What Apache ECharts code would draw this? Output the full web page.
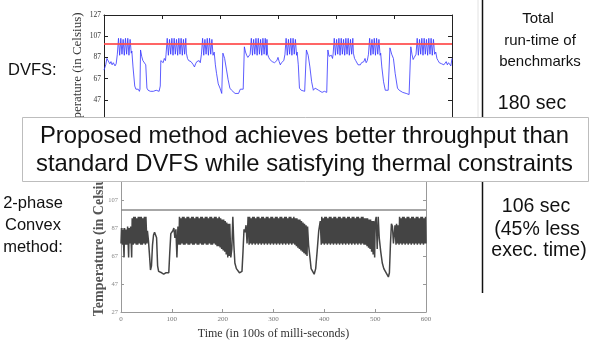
<!DOCTYPE html>
<html><head><meta charset="utf-8">
<script src="https://cdn.jsdelivr.net/npm/echarts@6/dist/echarts.min.js"></script>
<style>html,body{margin:0;padding:0;background:#fff}#c{width:593px;height:341px}</style>
</head><body><div id="c"></div>
<script>
// ---- data (time in 100s of ms, temperature in Celsius) ----
const timeRange = [0, 600];
const timeStep = 100;
const tempRange = [27, 127];
const tempStep = 20;
const thresholdTemp = 100;

const dvfsSeries = [
[0,75],[3,80],[5,86],[8,85],[10,81],[12,83],[14,80],[16,82],[19,79],[21,81],
[23,90],[25,105],[27,89],[29,105],[31,90],[33,104],[35,89],[37,105],[39,90],[41,105],[43,89],[45,104],[47,91],
[48,93],[50,78],[53,60],[55,57],[57,56],[59,57],[61,55],[62,57],[63,94],[65,88],[67,84],[70,85],[72,80],[74,58],[76,56],[80,55],[85,55],[90,56],[95,55],[97,60],[98,84],[100,83],[102,82],[104,86],[106,84],
[107,90],[109,105],[111,89],[113,104],[115,90],[117,105],[119,89],[121,105],[123,90],[125,104],[127,89],[129,105],[131,90],[133,105],[135,89],[137,104],[139,90],[141,105],[142,91],
[144,86],[146,84],[148,85],[150,83],[152,84],[154,80],[156,78],[158,81],[160,83],[162,82],[164,84],[166,82],
[168,90],[170,105],[172,89],[174,104],[176,90],[178,105],[180,89],[182,105],[184,90],[186,104],[188,89],[190,92],
[192,80],[194,72],[197,62],[200,58],[203,53],[205,91],[208,86],[211,76],[214,66],[217,58],[220,56],[223,55],[226,53],[229,54],[232,53],[235,57],[238,56],[240,57],[242,97],[244,92],[246,89],[248,87],[250,88],
[252,90],[254,105],[256,89],[258,104],[260,90],[262,105],[264,89],[266,105],[268,90],[270,104],[272,89],[274,105],[276,90],[278,105],[280,89],[281,104],[282,90],
[284,87],[286,85],[288,84],[290,83],[292,84],[294,82],[296,81],[298,84],[300,87],[302,83],[304,80],[306,82],[308,81],[310,84],
[312,90],[314,105],[316,89],[318,104],[320,90],[322,105],[324,89],[326,105],[328,90],[330,104],[332,89],[333,92],
[335,80],[337,58],[340,56],[343,57],[346,55],[349,94],[352,89],[355,78],[358,64],[361,56],[364,58],[367,59],[370,56],[373,55],[376,54],[380,55],[384,54],[386,94],[388,88],[390,87],[392,89],[394,86],
[395,90],[397,105],[399,89],[401,104],[403,90],[405,105],[407,89],[409,105],[411,90],[413,104],[415,89],[417,105],[419,90],[421,105],[423,89],[425,104],[427,90],[429,105],[430,91],
[432,86],[434,84],[436,83],[438,80],[440,79],[442,80],[444,82],[446,81],[448,83],[450,86],[452,82],[454,84],
[456,90],[458,105],[460,89],[462,104],[464,90],[466,105],[468,89],[470,105],[472,90],[474,104],[476,89],[477,91],
[479,78],[482,64],[485,56],[488,57],[490,56],[493,96],[496,90],[499,86],[502,72],[506,58],[509,56],[512,55],[515,54],[518,55],[521,53],[524,54],[526,52],[529,97],[531,90],[533,85],[535,87],
[538,90],[540,105],[542,89],[544,104],[546,90],[548,105],[550,89],[552,105],[554,90],[556,104],[558,89],[560,105],[562,90],[564,105],[566,89],[568,104],[570,90],[572,92],
[574,86],[576,84],[578,82],[580,83],[582,81],[584,82],[586,80],[588,81],[590,83],[592,80],[594,82],[596,81],[598,79],[600,86]
];

const convexSeries = [
[0,76],[1,87],[3,75],[4,86],[6,66],[7,87],[9,75],[10,86],[12,75],[13,88],[15,66],[16,87],[18,76],[19,88],[21,66],[22,94],
[24,75],[25,95],[27,76],[28,95],[30,75],[31,94],[33,75],[34,95],[36,76],[37,95],[39,75],[40,95],[42,75],[43,94],[45,76],[46,95],[48,75],[49,95],[51,76],
[52,85],[54,78],[56,68],[58,57],[60,60],[62,75],[64,82],[66,84],[68,85],[70,80],[72,60],[74,56],[76,55],[80,55],[84,54],[88,55],[91,54],[94,55],[96,70],[98,83],[100,82],[102,85],[104,87],[106,80],[108,86],[110,66],[112,88],
[114,75],[115,95],[117,75],[118,94],[120,76],[121,95],[123,75],[124,95],[126,75],[127,94],[129,76],[130,95],[132,75],[133,95],[135,75],[136,94],[138,76],[139,95],[141,75],[142,95],[144,75],[145,94],[147,76],[148,95],[150,75],[151,95],[153,75],[154,94],[156,76],[157,95],[159,75],[160,95],[162,75],[163,94],[165,76],[166,95],[168,75],[169,95],[171,75],[172,94],[174,76],[175,95],[177,75],[178,95],[180,75],[181,94],[183,76],[184,95],[186,75],[187,95],[189,74],[190,94],[192,74],[193,95],[195,73],[196,94],[198,72],[199,93],[201,71],[202,93],[204,70],[205,92],[207,68],[208,91],[210,66],[211,90],[213,67],
[214,90],[216,66],[218,72],[220,95],[222,75],[224,62],[227,58],[230,57],[233,55],[236,54],[238,56],[240,70],[242,86],[244,84],[246,89],[248,76],
[250,95],[252,75],[253,95],[255,76],[256,94],[258,75],[259,95],[261,76],[262,95],[264,75],[265,94],[267,76],[268,95],[270,75],[271,95],[273,76],[274,94],[276,75],[277,95],[279,76],[280,95],[282,75],[283,94],[285,76],[286,95],[288,75],[289,95],[291,76],[292,94],[294,75],[295,95],[297,76],[298,95],[300,75],[301,94],[303,76],[304,95],[306,75],[307,95],[309,76],[310,94],[312,75],[313,95],[315,76],[316,95],[318,75],[319,94],[321,76],[322,95],[324,75],[325,95],[327,76],[328,94],[330,75],[331,95],[333,76],[334,95],[336,75],[337,94],[339,76],[340,95],[342,75],[343,94],[345,74],[346,94],[348,73],[349,93],[351,72],[352,93],[354,71],[355,92],[357,70],[358,91],[360,69],[361,90],[363,68],[364,89],[366,67],[367,88],
[369,75],[372,65],[374,58],[377,56],[380,54],[383,58],[386,71],[389,85],[392,92],
[394,75],[395,95],[397,76],[398,94],[400,75],[401,95],[403,76],[404,95],[406,75],[407,94],[409,76],[410,95],[412,75],[413,95],[415,76],[416,94],[418,75],[419,95],[421,76],[422,95],[424,75],[425,94],[427,76],[428,95],[430,75],[431,95],[433,76],[434,94],[436,75],[437,95],[439,76],[440,95],[442,75],[443,94],[445,76],[446,95],[448,75],[449,95],[451,76],[452,94],[454,75],[455,95],[457,76],[458,95],[460,75],[461,94],[463,76],[464,95],[466,75],[467,95],[469,76],[470,94],[472,75],[473,95],[475,76],[476,95],[478,75],[479,94],[481,75],[482,94],[484,74],[485,94],[487,73],[488,93],[490,72],[491,93],[493,70],[494,92],[496,68],[497,92],[499,66],[500,91],
[502,95],[504,72],[506,95],[508,80],[511,70],[514,62],[517,58],[520,56],[523,54],[526,52],[528,55],[530,75],[532,90],[534,88],[536,76],
[538,76],[539,89],[541,75],[542,90],[544,76],[545,89],[547,75],[548,95],[550,76],[551,94],[553,75],[554,95],[556,76],[557,95],[559,75],[560,94],[562,76],[563,95],[565,75],[566,95],[568,76],[569,94],[571,75],[572,95],[574,76],[575,95],[577,75],[578,94],[580,76],[581,95],[583,75],[584,95],[586,76],[587,94],[589,75],[590,95],[592,76],[593,95],[595,75],[596,94],[598,76],[599,95],[600,76]
];

const yTitle = 'Temperature (in Celsius)';
const xTitle = 'Time (in 100s of milli-seconds)';
const bannerLines = ['Proposed method achieves better throughput than', 'standard DVFS while satisfying thermal constraints'];
const dvfsLabel = 'DVFS:';
const convexLabel = ['2-phase', 'Convex', 'method:'];
const runtimeHeader = ['Total', 'run-time of', 'benchmarks'];
const dvfsRuntime = '180 sec';
const convexRuntime = ['106 sec', '(45% less', 'exec. time)'];

// ---- chart ----
const chart = echarts.init(document.getElementById('c'), null, {renderer: 'canvas'});
const SERIF = '"Liberation Serif", "Times New Roman", serif';
const SANS = '"Liberation Sans", Arial, sans-serif';

function xAx(grid, pos, color, tick, showLabel) {
  return {
    gridIndex: grid, type: 'value', position: pos, min: timeRange[0], max: timeRange[1], interval: timeStep,
    axisLine: {show: true, onZero: false, lineStyle: {color: color, width: 1}},
    axisTick: {show: true, inside: true, length: tick, lineStyle: {color: color}},
    axisLabel: {show: showLabel, fontSize: 7, color: '#777', fontFamily: SERIF, margin: 4},
    splitLine: {show: false}
  };
}
function yAx(grid, pos, color, tick, showLabel, labelColor, fs) {
  return {
    gridIndex: grid, type: 'value', position: pos, min: tempRange[0], max: tempRange[1], interval: tempStep,
    axisLine: {show: true, onZero: false, lineStyle: {color: color, width: 1}},
    axisTick: {show: true, inside: true, length: tick, lineStyle: {color: color}},
    axisLabel: {show: showLabel, fontSize: fs, color: labelColor, fontFamily: SERIF, margin: 3},
    splitLine: {show: false}
  };
}

const xBottom = xAx(2, 'bottom', '#999', 3, true);
xBottom.name = xTitle;
xBottom.nameLocation = 'middle';
xBottom.nameGap = 16;
xBottom.nameMoveOverlap = false;
xBottom.nameTextStyle = {fontFamily: SERIF, fontSize: 12, color: '#333'};

const yBottom = yAx(2, 'left', '#999', 3, true, '#888', 6.5);
yBottom.name = yTitle;
yBottom.nameLocation = 'middle';
yBottom.nameGap = 15;
yBottom.nameMoveOverlap = false;
yBottom.nameTextStyle = {fontFamily: SERIF, fontSize: 14, fontWeight: 'bold', color: '#555'};

const option = {
  animation: false,
  backgroundColor: '#fff',
  grid: [
    {left: 104, top: 15, width: 348, height: 106, show: false},
    {left: 104, top: 15, width: 348, height: 106, show: false},
    {left: 121, top: 172, width: 305, height: 140, show: false}
  ],
  xAxis: [
    xAx(0, 'bottom', '#222', 4, false),
    xAx(1, 'top', '#222', 4, false),
    xBottom,
    xAx(2, 'top', '#999', 3, false)
  ],
  yAxis: [
    yAx(0, 'left', '#222', 4, true, '#333', 7.5),
    yAx(1, 'right', '#222', 4, false, '#333', 7.5),
    yBottom,
    yAx(2, 'right', '#999', 3, false, '#888', 6.5)
  ],
  series: [
    {
      type: 'line', xAxisIndex: 0, yAxisIndex: 0, data: dvfsSeries, showSymbol: false, symbol: 'none',
      lineStyle: {color: '#3535ff', width: 1, opacity: 0.8}, emphasis: {disabled: true}, z: 2,
      markLine: {silent: true, symbol: 'none', label: {show: false},
        lineStyle: {color: '#ff4a4a', width: 2, type: 'solid', opacity: 0.85}, data: [{yAxis: thresholdTemp}]}
    },
    {
      type: 'line', xAxisIndex: 2, yAxisIndex: 2, data: convexSeries, showSymbol: false, symbol: 'none',
      lineStyle: {color: '#444', width: 1.5}, emphasis: {disabled: true}, z: 2,
      markLine: {silent: true, symbol: 'none', label: {show: false},
        lineStyle: {color: '#8a8a8a', width: 1.5, type: 'solid'}, data: [{yAxis: thresholdTemp}]}
    }
  ],
  graphic: [
    {type: 'line', shape: {x1: 478, y1: 0, x2: 478, y2: 117}, style: {stroke: '#e2e2e2', lineWidth: 1}, z: 50},
    {type: 'text', x: 78, y: 77, rotation: Math.PI / 2,
      style: {text: yTitle, font: '13px ' + SERIF, fill: '#333', align: 'center', verticalAlign: 'middle'}, z: 50},
    {type: 'text', x: 8, y: 70, style: {text: dvfsLabel, font: '16.5px ' + SANS, fill: '#111', align: 'left', verticalAlign: 'middle'}, z: 50},
    {type: 'text', x: 33, y: 203, style: {text: convexLabel[0], font: '16.5px ' + SANS, fill: '#111', align: 'center', verticalAlign: 'middle'}, z: 50},
    {type: 'text', x: 33, y: 225, style: {text: convexLabel[1], font: '16.5px ' + SANS, fill: '#111', align: 'center', verticalAlign: 'middle'}, z: 50},
    {type: 'text', x: 33, y: 247, style: {text: convexLabel[2], font: '16.5px ' + SANS, fill: '#111', align: 'center', verticalAlign: 'middle'}, z: 50},
    {type: 'line', shape: {x1: 482.5, y1: 0, x2: 482.5, y2: 117}, style: {stroke: '#111', lineWidth: 1.5}, z: 50},
    {type: 'line', shape: {x1: 482.5, y1: 182, x2: 482.5, y2: 293}, style: {stroke: '#111', lineWidth: 1.5}, z: 50},
    {type: 'text', x: 538, y: 19, style: {text: runtimeHeader[0], font: '15px ' + SANS, fill: '#111', align: 'center', verticalAlign: 'middle'}, z: 50},
    {type: 'text', x: 540, y: 41, style: {text: runtimeHeader[1], font: '15px ' + SANS, fill: '#111', align: 'center', verticalAlign: 'middle'}, z: 50},
    {type: 'text', x: 540, y: 62, style: {text: runtimeHeader[2], font: '15px ' + SANS, fill: '#111', align: 'center', verticalAlign: 'middle'}, z: 50},
    {type: 'text', x: 532, y: 103.5, style: {text: dvfsRuntime, font: '19.5px ' + SANS, fill: '#111', align: 'center', verticalAlign: 'middle'}, z: 50},
    {type: 'text', x: 536, y: 207, style: {text: convexRuntime[0], font: '19.5px ' + SANS, fill: '#111', align: 'center', verticalAlign: 'middle'}, z: 50},
    {type: 'text', x: 537, y: 230, style: {text: convexRuntime[1], font: '19.5px ' + SANS, fill: '#111', align: 'center', verticalAlign: 'middle'}, z: 50},
    {type: 'text', x: 539, y: 251, style: {text: convexRuntime[2], font: '19.5px ' + SANS, fill: '#111', align: 'center', verticalAlign: 'middle'}, z: 50},
    {type: 'rect', shape: {x: 22.5, y: 117.5, width: 566, height: 64}, style: {fill: '#fff', stroke: '#bdbdbd', lineWidth: 1}, z: 100},
    {type: 'text', x: 304.5, y: 136, style: {text: bannerLines[0], font: '23.8px ' + SANS, fill: '#111', align: 'center', verticalAlign: 'middle'}, z: 101},
    {type: 'text', x: 304.5, y: 164, style: {text: bannerLines[1], font: '23.8px ' + SANS, fill: '#111', align: 'center', verticalAlign: 'middle'}, z: 101}
  ]
};
chart.setOption(option);
</script>
</body></html>
